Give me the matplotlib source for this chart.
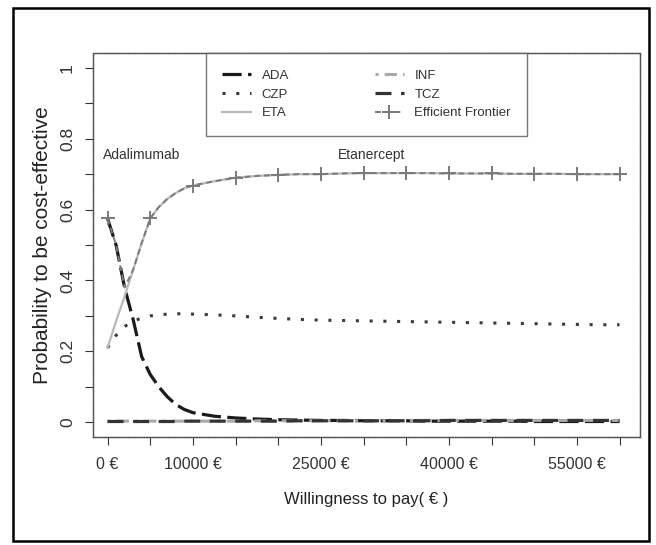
import matplotlib
matplotlib.use("Agg")
import matplotlib.pyplot as plt
from matplotlib.patches import Rectangle

plt.rcParams['font.family'] = ['Liberation Sans', 'DejaVu Sans']

# willingness to pay grid (EUR): finer at the low end where the curves move fast
wtp = [0, 1000, 2000, 3000, 4000, 5000, 6000, 7000, 8000, 9000, 10000,
       12500, 15000, 17500, 20000, 22500, 25000, 27500, 30000, 32500, 35000,
       37500, 40000, 42500, 45000, 47500, 50000, 52500, 55000, 57500, 60000]

# probability to be cost-effective per treatment
ada = [0.575, 0.50, 0.38, 0.29, 0.185, 0.135, 0.10, 0.072, 0.05, 0.036, 0.027,
       0.017, 0.012, 0.009, 0.007, 0.006, 0.005, 0.005, 0.004, 0.004, 0.004,
       0.003, 0.003, 0.003, 0.003, 0.003, 0.002, 0.002, 0.002, 0.002, 0.002]
czp = [0.21, 0.245, 0.27, 0.285, 0.294, 0.30, 0.303, 0.305, 0.306, 0.306, 0.305,
       0.303, 0.30, 0.296, 0.293, 0.29, 0.288, 0.287, 0.286, 0.285, 0.284,
       0.283, 0.282, 0.281, 0.28, 0.279, 0.278, 0.277, 0.276, 0.275, 0.275]
eta = [0.21, 0.285, 0.355, 0.43, 0.505, 0.575, 0.607, 0.63, 0.647, 0.66, 0.668,
       0.68, 0.69, 0.695, 0.698, 0.70, 0.70, 0.702, 0.703, 0.703, 0.703,
       0.703, 0.702, 0.702, 0.702, 0.701, 0.701, 0.701, 0.70, 0.70, 0.70]
inf = [0.003, 0.003, 0.003, 0.003, 0.003, 0.003, 0.003, 0.003, 0.003, 0.003, 0.003,
       0.003, 0.003, 0.004, 0.004, 0.004, 0.004, 0.004, 0.004, 0.004, 0.005,
       0.005, 0.005, 0.005, 0.005, 0.005, 0.005, 0.005, 0.005, 0.005, 0.005]
tcz = [0.002, 0.002, 0.002, 0.002, 0.002, 0.002, 0.002, 0.002, 0.002, 0.003, 0.003,
       0.003, 0.003, 0.003, 0.003, 0.004, 0.004, 0.004, 0.004, 0.004, 0.004,
       0.004, 0.005, 0.005, 0.005, 0.005, 0.005, 0.005, 0.005, 0.005, 0.005]
frontier = [0.575, 0.50, 0.38, 0.43, 0.505, 0.575, 0.607, 0.63, 0.647, 0.66, 0.668,
            0.68, 0.69, 0.695, 0.698, 0.70, 0.70, 0.702, 0.703, 0.703, 0.703,
            0.703, 0.702, 0.702, 0.702, 0.701, 0.701, 0.701, 0.70, 0.70, 0.70]

xtick_pos = list(range(0, 60001, 5000))
xtick_labelled = [0, 10000, 25000, 40000, 55000]
ytick_pos = [i / 10 for i in range(11)]
ytick_labels = {0: "0", 2: "0.2", 4: "0.4", 6: "0.6", 8: "0.8", 10: "1"}

# frontier markers only at the 5000 steps
marker_idx = [i for i, v in enumerate(wtp) if v % 5000 == 0]

fig = plt.figure(figsize=(6.56, 5.45), dpi=100)
ax = fig.add_axes([0.1418, 0.198, 0.8338, 0.7048])

ax.plot(wtp, ada, color='#1a1a1a', lw=2.3, dashes=(6, 2), label='ADA')
ax.plot(wtp, czp, color='#3a3a3a', lw=2.2, dashes=(1, 3.5), label='CZP')
ax.plot(wtp, eta, color='#b8b8b8', lw=1.6, label='ETA')
ax.plot(wtp, inf, color='#a8a8a8', lw=2.2, dashes=(1, 2, 4, 2), label='INF')
ax.plot(wtp, tcz, color='#333333', lw=2.3, dashes=(5, 3), label='TCZ')
ax.plot(wtp, frontier, color='#7a7a7a', lw=1.4, dashes=(3, 2), marker='+', ms=10,
        mew=1.4, markevery=marker_idx, label='Efficient Frontier')

ax.text(4000, 0.755, 'Adalimumab', ha='center', va='center', fontsize=10, color='#333333')
ax.text(31000, 0.755, 'Etanercept', ha='center', va='center', fontsize=10, color='#333333')

ax.set_xlim(-1700, 62400)
ax.set_ylim(-0.042, 1.042)

ax.set_xticks(xtick_pos)
ax.set_xticklabels([f"{v} €" if v in xtick_labelled else "" for v in xtick_pos])
ax.set_yticks(ytick_pos)
ax.set_yticklabels([ytick_labels.get(i, "") for i in range(11)], rotation=90, va='center')
ax.tick_params(axis='x', labelsize=11.5, length=6, pad=8, colors='#333333')
ax.tick_params(axis='y', labelsize=12.5, length=6, pad=7, colors='#333333')

ax.set_xlabel('Willingness to pay( € )', fontsize=12, labelpad=15, color='#222222')
ax.set_ylabel('Probability to be cost-effective', fontsize=15, labelpad=6, color='#222222')

for s in ax.spines.values():
    s.set_color('#555555')
    s.set_linewidth(1.0)
    s.set_linestyle((0, (1, 0.6)))

leg = ax.legend(loc='upper center', bbox_to_anchor=(0.5, 1.0), ncol=2, fontsize=9.5,
                frameon=True, fancybox=False, borderaxespad=0, handlelength=2.2,
                columnspacing=6.5, labelspacing=0.5, borderpad=1.25, handletextpad=0.8)
leg.get_frame().set_edgecolor('#555555')
leg.get_frame().set_linewidth(1.0)
for t in leg.get_texts():
    t.set_color('#333333')

# outer frame around the figure
fig.patches.append(Rectangle((13 / 656, 4 / 545), 636 / 656, 533 / 545, transform=fig.transFigure,
                             fill=False, edgecolor='black', lw=1.8))

fig.savefig('out.png', dpi=100, facecolor='white')
